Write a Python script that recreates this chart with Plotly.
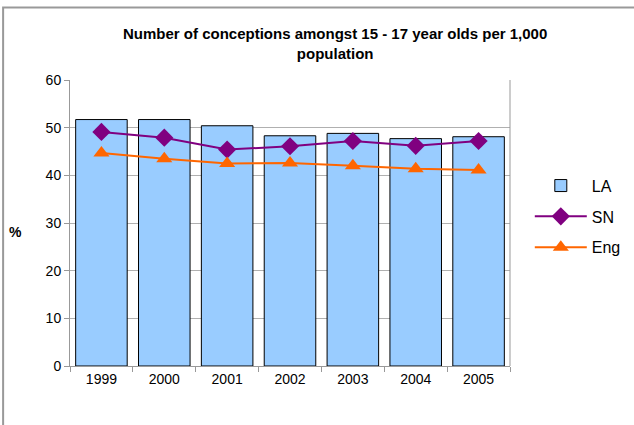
import plotly.graph_objects as go

years = ["1999", "2000", "2001", "2002", "2003", "2004", "2005"]
la = [51.7, 51.7, 50.4, 48.3, 48.8, 47.7, 48.1]
sn = [49.1, 47.9, 45.4, 46.1, 47.2, 46.2, 47.2]
eng = [44.7, 43.5, 42.5, 42.6, 42.0, 41.4, 41.1]

title_text = "<b>Number of conceptions amongst 15 - 17 year olds per 1,000<br>population</b>"

fig = go.Figure()
fig.add_trace(go.Bar(x=years, y=la, name="LA", legendgroup="a",
                     marker=dict(color="#99CCFF", line=dict(color="black", width=1))))
fig.add_trace(go.Scatter(x=years, y=sn, name="SN", legendgroup="b", mode="lines+markers",
                         line=dict(color="#800080", width=2),
                         marker=dict(symbol="diamond", size=14, color="#800080")))
fig.add_trace(go.Scatter(x=years, y=eng, name="Eng", legendgroup="c", mode="lines+markers",
                         line=dict(color="#FF6600", width=2),
                         marker=dict(symbol="triangle-up", size=14, color="#FF6600")))

fig.update_layout(
    width=634, height=425,
    margin=dict(l=70, r=124, t=80, b=59, autoexpand=False),
    paper_bgcolor="white", plot_bgcolor="white",
    font=dict(family="Liberation Sans, Arial, sans-serif", size=14, color="black"),
    bargap=0.18,
    showlegend=True,
    legend=dict(x=1.045, y=0.69, xanchor="left", yanchor="top", traceorder="grouped",
                tracegroupgap=7, itemwidth=52,
                font=dict(size=16, family="Liberation Sans, Arial, sans-serif")),
    xaxis=dict(showline=True, linecolor="#999999", ticks="outside", tickson="boundaries",
               tickcolor="#999999", ticklen=5, showgrid=False, mirror=False,
               tickfont=dict(size=14), automargin=False),
    yaxis=dict(range=[0, 60], dtick=10, showgrid=True, gridcolor="#B0B0B0", gridwidth=1,
               showline=True, linecolor="#999999", ticks="outside", tickcolor="#999999",
               ticklen=5, zeroline=False, tickfont=dict(size=14), automargin=False),
    annotations=[
        dict(text=title_text, xref="paper", yref="paper", x=0.602, y=1.129,
             xanchor="center", yanchor="middle", showarrow=False, font=dict(size=15)),
        dict(text="<b>%</b>", xref="paper", yref="paper", x=-0.125, y=0.469,
             xanchor="center", yanchor="middle", showarrow=False, font=dict(size=14)),
    ],
    shapes=[
        dict(type="line", xref="paper", yref="paper", x0=1, x1=1, y0=0, y1=1,
             line=dict(color="#999999", width=1)),
        dict(type="rect", xref="paper", yref="paper", x0=-0.152, x1=1.4, y0=-0.4, y1=1.2535,
             line=dict(color="#999999", width=2)),
    ],
)

fig.write_html("out.html", config={"displayModeBar": False},
               post_script="document.body.style.margin='0';")
